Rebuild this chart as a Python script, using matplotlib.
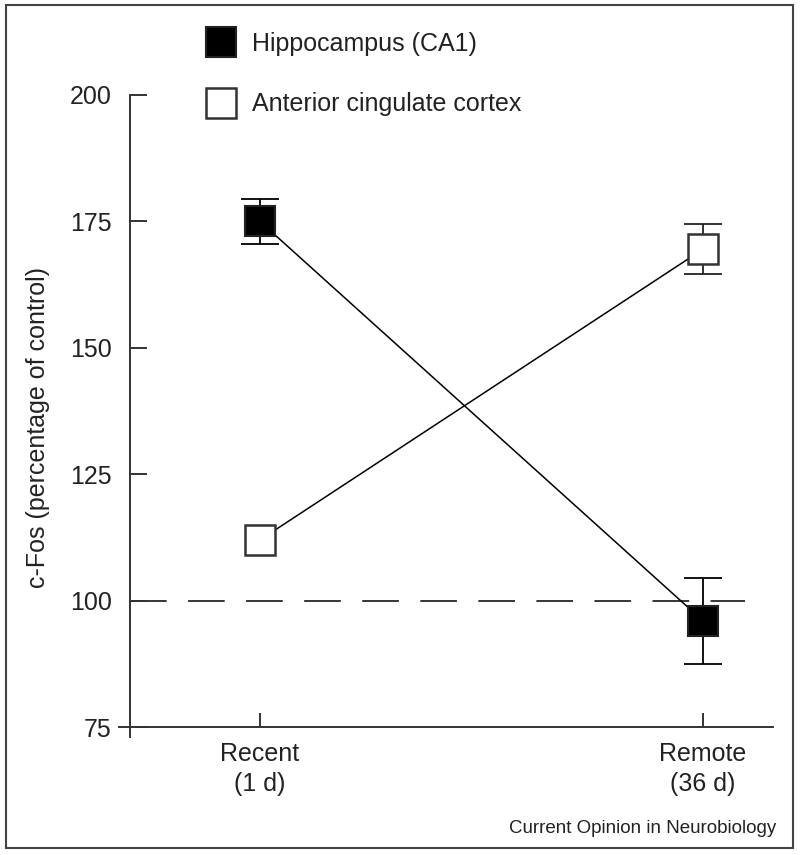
import matplotlib
matplotlib.use('Agg')
import matplotlib.pyplot as plt
from matplotlib.lines import Line2D
from matplotlib.patches import Rectangle

plt.rcParams['font.family'] = ['Liberation Sans', 'DejaVu Sans']

phases = ['Recent\n(1 d)', 'Remote\n(36 d)']
hippo = [175, 96]
hippo_err = [4.5, 8.5]
acc = [112, 169.5]
acc_err = [0, 5]   # recent error hidden inside the marker
baseline = 100
yticks = [75, 100, 125, 150, 175, 200]

fig = plt.figure(figsize=(8, 8.55), dpi=100)
ax = fig.add_axes([130 / 800, 1 - 727 / 855, 643 / 800, 632 / 855])
x = [0, 1]
xmin, xmax = -130 / 443, 1 + 70 / 443

# connecting lines
ax.plot(x, hippo, color='black', lw=1.1, zorder=2)
ax.plot(x, acc, color='black', lw=1.1, zorder=2)

# dashed control level
ax.plot([xmin, 1.095], [baseline, baseline], color='black', lw=1.1,
        dashes=(24, 14), zorder=1)

# error bars (only where visible)
ax.errorbar(x, hippo, yerr=hippo_err, fmt='none', ecolor='black',
            elinewidth=1.3, capsize=14, capthick=1.3, zorder=3)
keep = [i for i in range(len(x)) if acc_err[i] > 0]
ax.errorbar([x[i] for i in keep], [acc[i] for i in keep],
            yerr=[acc_err[i] for i in keep], fmt='none', ecolor='#222',
            elinewidth=1.3, capsize=14, capthick=1.3, zorder=3)

# markers
ax.plot(x, hippo, ls='none', marker='s', ms=22, mfc='black', mec='#222',
        mew=1.5, zorder=4)
ax.plot(x, acc, ls='none', marker='s', ms=22, mfc='white', mec='#333',
        mew=1.8, zorder=4)

ax.set_xlim(xmin, xmax)
ax.set_ylim(75, 200)
ax.set_yticks(yticks)
ax.set_xticks(x)
ax.set_xticklabels(phases, linespacing=1.3)

for s in ['top', 'right']:
    ax.spines[s].set_visible(False)
for s in ['left', 'bottom']:
    ax.spines[s].set_color('#333')
    ax.spines[s].set_linewidth(1.4)
ax.spines['left'].set_bounds(73, 200)
ax.spines['bottom'].set_bounds(xmin - 0.025, xmax)

ax.tick_params(axis='y', direction='in', length=12, width=1.4, color='#333',
               labelsize=18, pad=13, labelcolor='#222')
ax.tick_params(axis='x', direction='in', length=10, width=1.4, color='#333',
               labelsize=18, pad=11, labelcolor='#222')

fig.text(38 / 800, 1 - 427 / 855, 'c-Fos (percentage of control)',
         rotation=90, ha='center', va='center', fontsize=18, color='#222')

handles = [
    Line2D([], [], ls='none', marker='s', ms=22, mfc='black', mec='#222', mew=1.5),
    Line2D([], [], ls='none', marker='s', ms=22, mfc='white', mec='#333', mew=1.8),
]
ax.legend(handles, ['Hippocampus (CA1)', 'Anterior cingulate cortex'],
          loc='upper left', bbox_to_anchor=(196 / 800, 1 - 32 / 855),
          bbox_transform=fig.transFigure, frameon=False, fontsize=18,
          handlelength=2, handletextpad=0.25, borderpad=0, borderaxespad=0,
          labelspacing=1.46, labelcolor='#222')

fig.text(776 / 800, 1 - 828 / 855, 'Current Opinion in Neurobiology',
         ha='right', va='center', fontsize=13.5, color='#222')

fig.patches.append(Rectangle((6 / 800, 1 - 848 / 855), 787 / 800, 843 / 855,
                             transform=fig.transFigure, fill=False,
                             edgecolor='#444', lw=1.5))

fig.savefig('out.png', dpi=100)
